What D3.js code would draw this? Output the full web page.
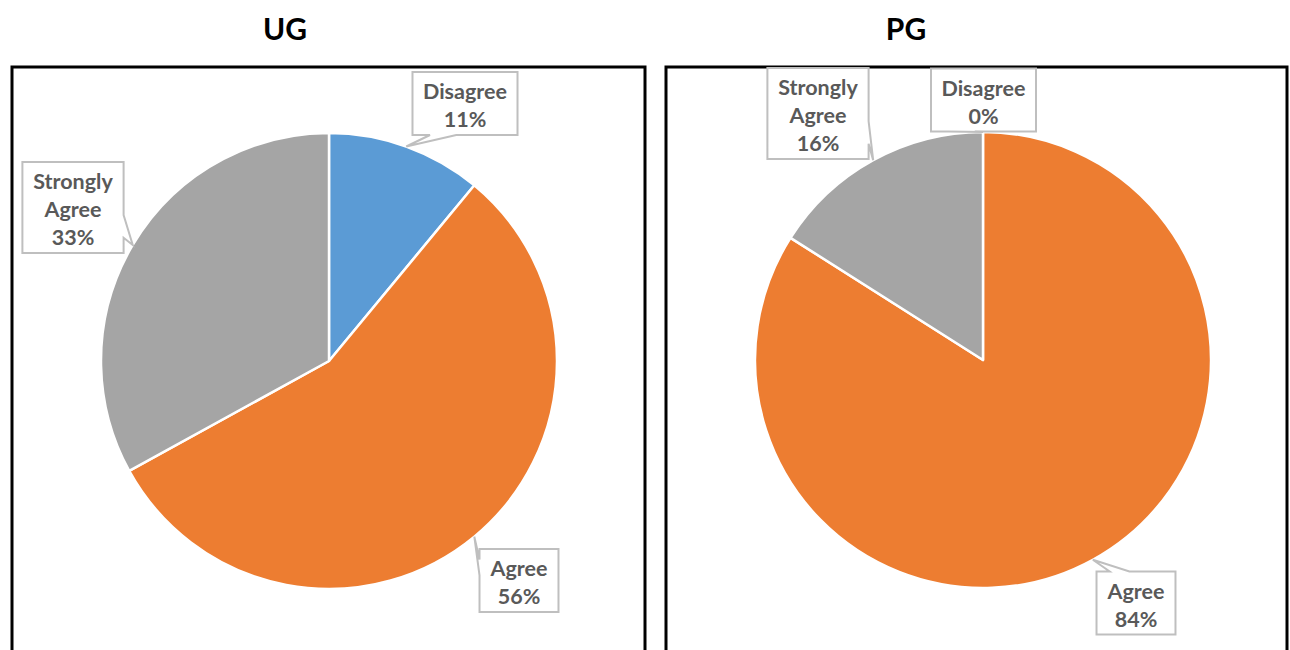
<!DOCTYPE html>
<html>
<head>
<meta charset="utf-8">
<script src="https://cdn.jsdelivr.net/npm/d3@7"></script>
<style>
  html, body { margin: 0; padding: 0; background: #fff; }
  svg { display: block; }
  text { font-family: Lato, "Open Sans", "DejaVu Sans", sans-serif; font-weight: 700; }
</style>
</head>
<body>
<svg id="chart" width="1290" height="650"></svg>
<script>
// Survey response shares, in percent, for each student group
const categories = ["Disagree", "Agree", "Strongly Agree"];
const ugValues = [11, 56, 33];
const pgValues = [0, 84, 16];
const groupTitles = ["UG", "PG"];
const sliceColors = ["#5B9BD5", "#ED7D31", "#A5A5A5"];

// Panel layout: frame, title, pie centre/radius and callout box centres
// (optional third entry forces the side the wedge is drawn on)
const panels = [
  {
    title: groupTitles[0], values: ugValues,
    frame: { x: 12, y: 67, w: 633 }, titleX: 285,
    cx: 329, cy: 361, r: 228,
    boxes: [[465, 103.5], [519, 580.5, "left"], [73, 207.5]]
  },
  {
    title: groupTitles[1], values: pgValues,
    frame: { x: 666, y: 67, w: 621 }, titleX: 906,
    cx: 983, cy: 360, r: 228,
    boxes: [[983.5, 100], [1136, 603], [818, 113.5]]
  }
];

const svg = d3.select("#chart");
const pie = d3.pie().sort(null).value(d => d);
const lineH = 28;

// Rectangle callout with a wedge pointing at (tx, ty), following the
// wedgeRectCallout geometry: the wedge sits on the side facing the tip.
function calloutPath(x, y, w, h, tx, ty, side) {
  const hc = x + w / 2, vc = y + h / 2;
  const dx = tx - hc, dy = ty - vc;
  const dz = Math.abs(dy) - Math.abs(dx * h / w);
  if (!side) {
    side = dz > 0 ? (dy < 0 ? "top" : "bottom") : (dx > 0 ? "right" : "left");
  }
  const x1 = x + w * (dx > 0 ? 7 : 2) / 12, x2 = x + w * (dx > 0 ? 10 : 5) / 12;
  const y1 = y + h * (dy > 0 ? 7 : 2) / 12, y2 = y + h * (dy > 0 ? 10 : 5) / 12;
  const r = x + w, b = y + h;
  const p = d3.path();
  p.moveTo(x, y);
  if (side === "top") { p.lineTo(x1, y); p.lineTo(tx, ty); p.lineTo(x2, y); }
  p.lineTo(r, y);
  if (side === "right") { p.lineTo(r, y1); p.lineTo(tx, ty); p.lineTo(r, y2); }
  p.lineTo(r, b);
  if (side === "bottom") { p.lineTo(x2, b); p.lineTo(tx, ty); p.lineTo(x1, b); }
  p.lineTo(x, b);
  if (side === "left") { p.lineTo(x, y2); p.lineTo(tx, ty); p.lineTo(x, y1); }
  p.closePath();
  return p.toString();
}

panels.forEach(panel => {
  // Frame (runs past the bottom of the view)
  svg.append("rect")
    .attr("x", panel.frame.x).attr("y", panel.frame.y)
    .attr("width", panel.frame.w).attr("height", 700)
    .attr("fill", "none").attr("stroke", "#000").attr("stroke-width", 3);

  svg.append("text")
    .attr("x", panel.titleX).attr("y", 40)
    .attr("text-anchor", "middle")
    .attr("font-size", 30).attr("fill", "#000")
    .text(panel.title);

  const arcs = pie(panel.values);
  const arc = d3.arc().innerRadius(0).outerRadius(panel.r);
  const g = svg.append("g").attr("transform", `translate(${panel.cx},${panel.cy})`);

  g.selectAll("path.slice")
    .data(arcs)
    .join("path")
    .attr("class", "slice")
    .attr("d", arc)
    .attr("fill", (d, i) => sliceColors[i])
    .attr("stroke", "#fff")
    .attr("stroke-width", 2.5)
    .attr("stroke-linejoin", "round");

  // Callout labels
  arcs.forEach((d, i) => {
    const mid = (d.startAngle + d.endAngle) / 2;
    const tx = panel.cx + panel.r * Math.sin(mid);
    const ty = panel.cy - panel.r * Math.cos(mid);
    const lines = categories[i].split(" ").concat([d.value + "%"]);
    const [bx, by, side] = panel.boxes[i];

    const lg = svg.append("g");
    const callout = lg.append("path");
    const txt = lg.append("text")
      .attr("text-anchor", "middle")
      .attr("font-size", 21.5)
      .attr("fill", "#595959");
    const top = by - (lines.length * lineH) / 2;
    lines.forEach((s, k) => {
      txt.append("tspan")
        .attr("x", bx)
        .attr("y", top + lineH * (k + 1) - 4.5)
        .text(s);
    });
    const tw = txt.node().getBBox().width;
    const w = tw + 21;
    const h = lines.length * lineH + 7;
    callout
      .attr("d", calloutPath(bx - w / 2, by - h / 2, w, h, tx, ty, side))
      .attr("fill", "#fff")
      .attr("stroke", "#BFBFBF")
      .attr("stroke-width", 2);
  });
});
</script>
</body>
</html>
